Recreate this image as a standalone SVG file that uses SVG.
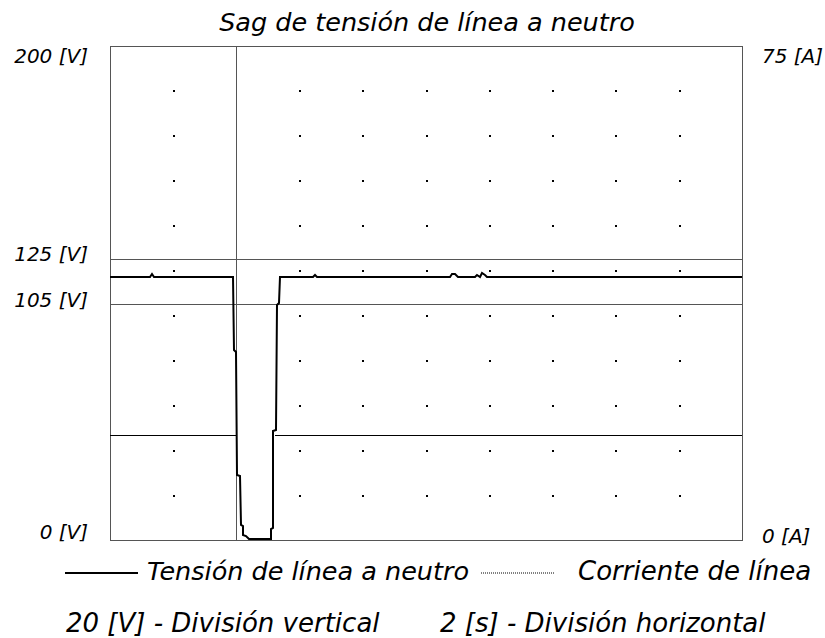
<svg xmlns="http://www.w3.org/2000/svg" width="825" height="638" viewBox="0 0 825 638">
<style>
text{font-family:"DejaVu Sans","Liberation Sans",sans-serif;font-style:italic;fill:#000}
.t{font-size:25.5px}
.b{font-size:26px}
.l{font-size:20px}
.g{stroke:#000;stroke-width:1;fill:none}
.gl{stroke:#555;stroke-width:1;fill:none}
</style>
<defs>
<g id="col">
<rect x="-1" y="90" width="2" height="2"/>
<rect x="-1" y="135" width="2" height="2"/>
<rect x="-1" y="180" width="2" height="2"/>
<rect x="-1" y="225" width="2" height="2"/>
<rect x="-1" y="270" width="2" height="2"/>
<rect x="-1" y="315" width="2" height="2"/>
<rect x="-1" y="360" width="2" height="2"/>
<rect x="-1" y="405" width="2" height="2"/>
<rect x="-1" y="450" width="2" height="2"/>
<rect x="-1" y="495" width="2" height="2"/>
</g>
</defs>
<rect width="825" height="638" fill="#fff"/>
<g id="frame">
<rect x="110.5" y="46.5" width="632" height="494" class="gl"/>
</g>
<g id="grid-dots" fill="#000">
<use href="#col" x="174"/>
<use href="#col" x="300"/>
<use href="#col" x="363"/>
<use href="#col" x="427"/>
<use href="#col" x="490"/>
<use href="#col" x="553"/>
<use href="#col" x="616"/>
<use href="#col" x="680"/>
</g>
<g id="markers">
<line x1="236.5" y1="46" x2="236.5" y2="540" class="gl"/>
<line x1="110" y1="259.5" x2="742" y2="259.5" class="gl"/>
<line x1="110" y1="304.5" x2="742" y2="304.5" class="gl"/>
<line x1="110" y1="435.5" x2="236" y2="435.5" class="g"/>
<line x1="275" y1="435.5" x2="742" y2="435.5" class="g"/>
</g>
<g id="connectors">
<polyline fill="none" stroke="#000" stroke-width="2" stroke-linejoin="miter" points="110,277 150,277 152,274 154,277 233,277 234,350 236,352 237,475 240,476 241,525 243,526 243,535 246,536 249,539 271,539 271,529 273,528 273,431 276,430 277,305 279,303 280,277 313,277 315,275 317,277 450,277 452,274 455,274 458,277 475,277 477,275 480,277 482,273 485,275 487,277 742,277"/>
</g>
<g id="labels">
<text x="427" y="31" class="t" text-anchor="middle">Sag de tensión de línea a neutro</text>
<text x="88" y="63" class="l" text-anchor="end">200 [V]</text>
<text x="762" y="63" class="l">75 [A]</text>
<text x="88" y="261" class="l" text-anchor="end">125 [V]</text>
<text x="88" y="307" class="l" text-anchor="end">105 [V]</text>
<text x="88" y="539" class="l" text-anchor="end">0 [V]</text>
<text x="762" y="543" class="l">0 [A]</text>
</g>
<g id="legend">
<line x1="65" y1="573" x2="138" y2="573" stroke="#000" stroke-width="2"/>
<text x="147" y="580" class="t">Tensión de línea a neutro</text>
<line x1="481" y1="573" x2="555" y2="573" stroke="#000" stroke-width="1" stroke-dasharray="1,1"/>
<text x="578" y="580" class="b">Corriente de línea</text>
<text x="66" y="632" class="b">20 [V] - División vertical</text>
<text x="440" y="632" class="b">2 [s] - División horizontal</text>
</g>
</svg>
